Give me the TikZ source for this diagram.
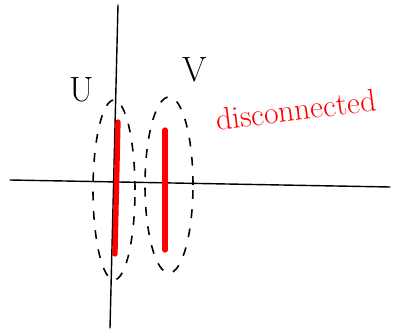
\documentclass[tikz,border=0pt]{standalone}
\usepackage{tikz}
\usetikzlibrary{positioning, shapes.geometric}

\begin{document}
\begin{tikzpicture}[
  x=0.02cm, y=-0.02cm,
  axis/.style={draw, line width=0.8pt, line cap=round},
  setline/.style={draw, ellipse, dash pattern=on 5pt off 6pt, line width=0.9pt, inner sep=0pt},
  piece/.style={draw=red, line width=3pt, line cap=round},
  hand/.style={font=\fontsize{20}{22}\selectfont},
]
\useasboundingbox (0,0) rectangle (393,331);

% axes
\coordinate (xl) at (10,180);
\coordinate (xr) at (390,187);
\coordinate (yt) at (118,5);
\coordinate (yb) at (110,328);
\draw[axis] (xl) -- (xr);
\draw[axis] (yt) -- (yb);

% open sets U and V
\node[setline, minimum width=0.84cm, minimum height=3.6cm] (setU) at (114,190) {};
\node[setline, minimum width=0.96cm, minimum height=3.52cm] (setV) at (169,185) {};
\node[hand] (lblU) at (82,90) {U};
\node[hand] (lblV) at (195,70) {V};

% the two pieces
\coordinate (a1) at (118,122);
\coordinate (a2) at (115,254);
\coordinate (b1) at (165,130);
\coordinate (b2) at (165,250);
\draw[piece] (a1) -- (a2);
\draw[piece] (b1) -- (b2);

% label
\node[hand, font=\fontsize{18}{20}\selectfont, text=red, rotate=7,
      anchor=west, inner sep=1pt] (disc) at (214,120) {disconnected};

\end{tikzpicture}
\end{document}
